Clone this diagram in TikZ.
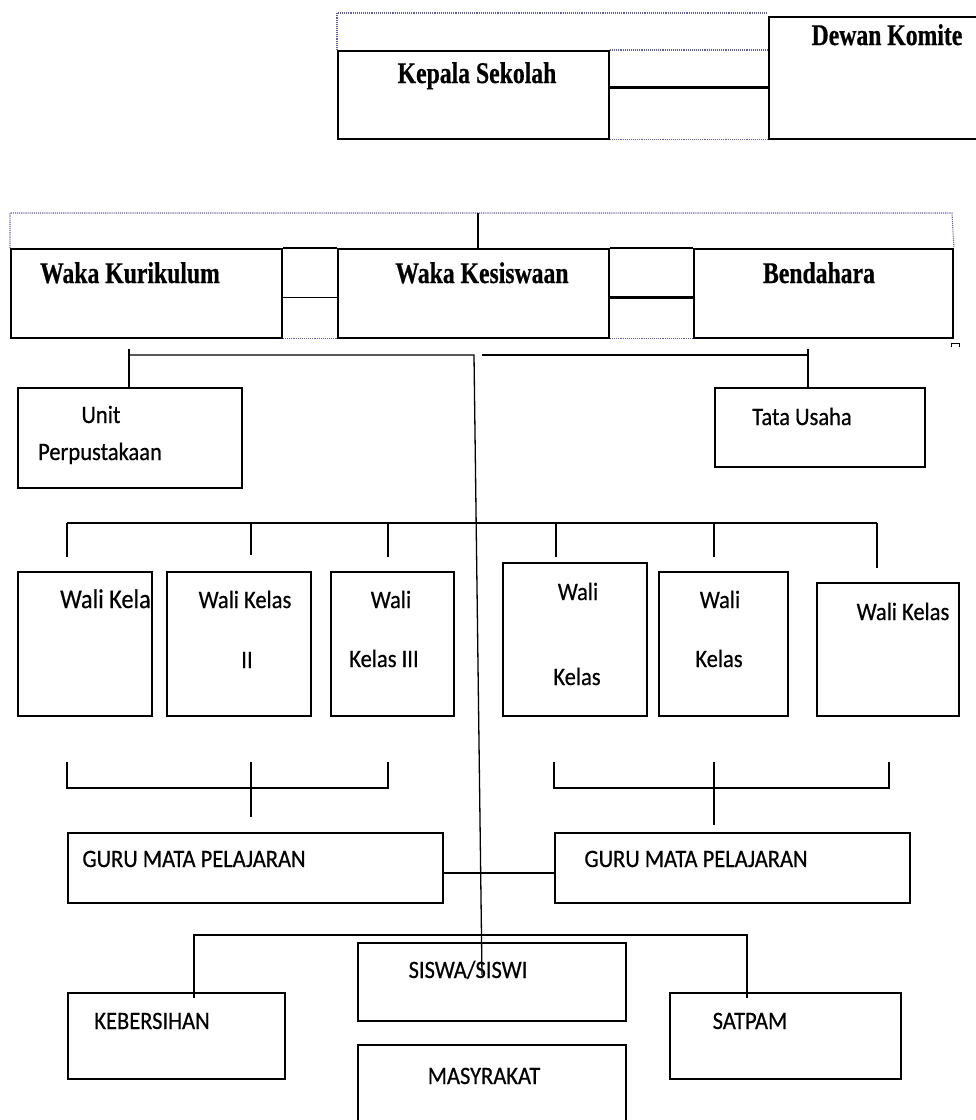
\documentclass[tikz,border=0pt]{standalone}
\usepackage{fontspec}
\newfontfamily\headfont[FakeStretch=0.79, FakeBold=0.6]{Liberation Serif}
\newfontfamily\bodyfont[FakeStretch=0.9, FakeBold=0.5]{Carlito}
\usetikzlibrary{positioning}
\tikzstyle{orgbox} = [rectangle, draw=black, line width=1.9pt, inner sep=0pt, anchor=north west]
\tikzstyle{conn} = [line width=1.3pt]
\tikzstyle{thickconn} = [line width=3pt]
\tikzstyle{guide} = [densely dotted, line width=1.1pt, draw=blue!25!gray]
\tikzstyle{headtext} = [font=\headfont\bfseries\fontsize{30}{36}\selectfont, inner sep=0pt, anchor=base]
\tikzstyle{bodytext} = [font=\bodyfont\fontsize{25}{30}\selectfont, inner sep=0pt, anchor=base]

\begin{document}
\begin{tikzpicture}[x=1pt, y=-1pt]
				\useasboundingbox (0,0) rectangle (976,1120);
				
				% Top: head and committee
				\node[orgbox, minimum width=271pt, minimum height=88pt] (kepala) at (337,50) {};
				\node[orgbox, minimum width=214pt, minimum height=122pt] (dewan) at (768,16) {};
				\node[headtext] (kepalatxt) at (477,83) {Kepala Sekolah};
				\node[headtext] (dewantxt) at (887,45) {Dewan Komite};
				\draw[guide] (kepala.north west) -- (337,13) -- (768,13);
				\draw[guide] (kepala.north east) -- (kepala.north east -| dewan.west);
				\draw[guide] (kepala.south east) -- (kepala.south east -| dewan.west);
				\coordinate (kd) at ([yshift=7pt]kepala.east);
				\draw[thickconn] (kd) -- (kd -| dewan.west);
				
				% Second row: vice heads and treasurer
				\node[orgbox, minimum width=271pt, minimum height=89pt] (kurikulum) at (10,248) {};
				\node[orgbox, minimum width=271pt, minimum height=89pt] (kesiswaan) at (337,248) {};
				\node[orgbox, minimum width=259pt, minimum height=89pt] (bendahara) at (693,248) {};
				\node[headtext] (kurikulumtxt) at (130,283) {Waka Kurikulum};
				\node[headtext] (kesiswaantxt) at (482,283) {Waka Kesiswaan};
				\node[headtext] (bendaharatxt) at (819,283) {Bendahara};
				\draw[guide] (kurikulum.north west) -- (10,213) -- (952,213) -- (bendahara.north east);
				\coordinate (wtop) at (478,213);
				\draw[conn] (wtop) -- (wtop |- kesiswaan.north);
				\draw[orgbox] (kurikulum.north east) -- (kesiswaan.north west);
				\draw[orgbox] (kesiswaan.north east) -- (bendahara.north west);
				\draw[guide] (kurikulum.south east) -- (kesiswaan.south west);
				\draw[guide] (kesiswaan.south east) -- (bendahara.south west);
				\draw[conn] ([yshift=-4pt]kurikulum.east) -- ([yshift=-4pt]kesiswaan.west);
				\draw[thickconn] ([yshift=-4pt]kesiswaan.east) -- ([yshift=-4pt]bendahara.west);
				\coordinate (mark) at (951,347);
				\draw[line width=1pt] (mark) -- ++(0,-4) -- ++(8,0) -- ++(0,4);
				
				% Third row: library and administration
				\node[orgbox, minimum width=224pt, minimum height=100pt] (upk) at (17,387) {};
				\node[orgbox, minimum width=210pt, minimum height=79pt] (tu) at (714,387) {};
				\node[bodytext] (upktxta) at (101,423) {Unit};
				\node[bodytext] (upktxtb) at (100,460) {Perpustakaan};
				\node[bodytext] (tutxt) at (802,425) {Tata Usaha};
				\coordinate (upktop) at (129,349);
				\coordinate (jl) at (474,355);
				\coordinate (jr) at (482,355);
				\coordinate (tutop) at (808,349);
				\coordinate (tail) at (482,975);
				\draw[conn] (upktop) -- (upktop |- upk.north);
				\draw[conn] (upktop |- jl) -- (jl) -- (tail);
				\draw[conn] (jr) -- (jr -| tutop);
				\draw[conn] (tutop) -- (tutop |- tu.north);
				
				% Fourth row: class teachers
				\node[orgbox, minimum width=134pt, minimum height=144pt] (wk1) at (17,571) {};
				\node[orgbox, minimum width=144pt, minimum height=144pt] (wk2) at (166,571) {};
				\node[orgbox, minimum width=123pt, minimum height=144pt] (wk3) at (330,571) {};
				\node[orgbox, minimum width=144pt, minimum height=153pt] (wk4) at (502,562) {};
				\node[orgbox, minimum width=129pt, minimum height=144pt] (wk5) at (658,571) {};
				\node[orgbox, minimum width=142pt, minimum height=133pt] (wk6) at (816,582) {};
				\begin{scope}
					\clip (wk1.north west) rectangle (wk1.south east);
					\node[bodytext, anchor=base west, font=\bodyfont\fontsize{27}{30}\selectfont] (wk1txt) at (60,608) {Wali Kelas I};
				\end{scope}
				\node[bodytext] (wk2txta) at (245,608) {Wali Kelas};
				\node[bodytext] (wk2txtb) at (247,668) {II};
				\node[bodytext] (wk3txta) at (391,608) {Wali};
				\node[bodytext] (wk3txtb) at (384,667) {Kelas III};
				\node[bodytext] (wk4txta) at (578,600) {Wali};
				\node[bodytext] (wk4txtb) at (577,685) {Kelas};
				\node[bodytext] (wk5txta) at (720,608) {Wali};
				\node[bodytext] (wk5txtb) at (719,667) {Kelas};
				\node[bodytext] (wk6txt) at (903,620) {Wali Kelas};
				\coordinate (wbarl) at (67,523);
				\coordinate (wbarr) at (877,523);
				\draw[conn] (wbarl) -- (wbarr);
				\foreach \x/\e in {67/557, 251/555, 388/557, 556/557, 714/557, 877/568}
				{
					\coordinate (drop\x) at (\x,523);
					\draw[conn] (drop\x) -- (\x,\e);
				}
				
				% Brackets above the subject teachers
				\foreach \a/\m/\b/\e in {67/251/388/817, 554/714/889/825}
				{
					\coordinate (brl\m) at (\a,762);
					\coordinate (brr\m) at (\b,762);
					\coordinate (brm\m) at (\m,762);
					\draw[conn] (brl\m) -- (\a,788) -- (\b,788) -- (brr\m);
					\draw[conn] (brm\m) -- (\m,\e);
				}
				
				% Subject teachers
				\node[orgbox, minimum width=375pt, minimum height=70pt] (gl) at (67,832) {};
				\node[orgbox, minimum width=355pt, minimum height=70pt] (gr) at (554,832) {};
				\node[bodytext] (gltxt) at (194,867) {GURU MATA PELAJARAN};
				\node[bodytext] (grtxt) at (696,867) {GURU MATA PELAJARAN};
				\draw[conn] ([yshift=-5pt]gl.east) -- ([yshift=-5pt]gr.west);
				
				% Bottom: students, staff, community
				\node[orgbox, minimum width=268pt, minimum height=78pt] (siswa) at (357,942) {};
				\node[orgbox, minimum width=217pt, minimum height=86pt] (keb) at (67,992) {};
				\node[orgbox, minimum width=231pt, minimum height=86pt] (satpam) at (669,992) {};
				\node[orgbox, minimum width=268pt, minimum height=90pt] (masy) at (357,1044) {};
				\node[bodytext] (siswatxt) at (468,978) {SISWA/SISWI};
				\node[bodytext] (kebtxt) at (152,1029) {KEBERSIHAN};
				\node[bodytext] (satpamtxt) at (750,1029) {SATPAM};
				\node[bodytext] (masytxt) at (484,1084) {MASYRAKAT};
				\coordinate (bbl) at (194,935);
				\coordinate (bbr) at (747,935);
				\coordinate (kebtop) at (194,998);
				\coordinate (sattop) at (747,998);
				\draw[conn] (kebtop) -- (bbl) -- (bbr) -- (sattop);
				
			\end{tikzpicture}
\end{document}
